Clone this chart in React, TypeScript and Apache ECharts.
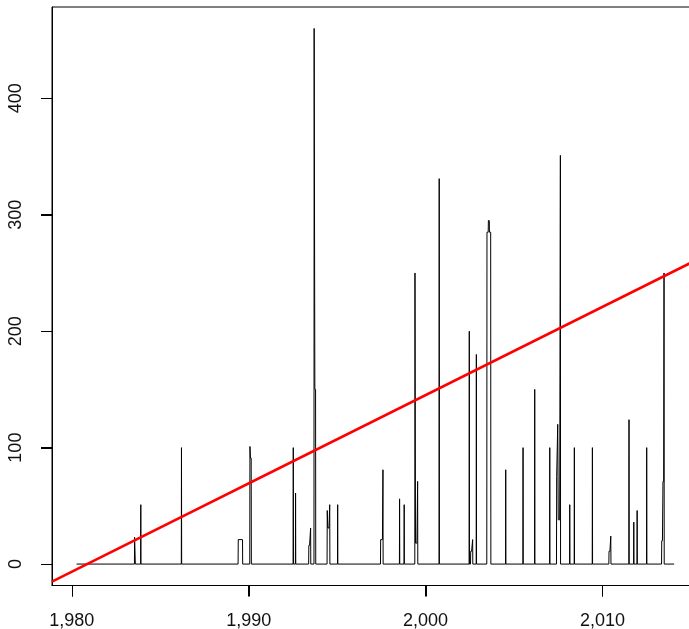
import React, { useEffect, useRef } from "react";
import * as echarts from "echarts";

// Time range of the black series (baseline at 0)
const seriesStart = 1980.27;
const seriesEnd = 2014.05;

// Runs of consecutive non-zero observations: years and values
const runYears: number[][] = [
  [1983.55, 1983.58],
  [1983.9],
  [1986.2],
  [1989.41, 1989.65],
  [1990.07, 1990.1, 1990.14],
  [1992.52],
  [1992.65],
  [1993.4, 1993.44, 1993.5],
  [1993.7, 1993.74, 1993.78],
  [1994.44, 1994.47, 1994.54, 1994.58],
  [1995.03],
  [1997.46, 1997.56, 1997.59],
  [1998.53],
  [1998.79],
  [1999.4, 1999.43, 1999.51, 1999.55],
  [2000.77],
  [2002.47],
  [2002.55, 2002.6, 2002.66],
  [2002.87],
  [2003.47, 2003.54, 2003.55, 2003.6, 2003.61, 2003.68],
  [2004.53],
  [2005.51],
  [2006.17],
  [2007.02],
  [2007.41, 2007.47, 2007.5, 2007.58, 2007.62],
  [2008.15],
  [2008.41],
  [2009.43],
  [2010.37, 2010.42, 2010.47],
  [2011.5],
  [2011.77],
  [2011.96],
  [2012.5],
  [2013.35, 2013.39, 2013.42, 2013.46, 2013.48],
];

const runValues: number[][] = [
  [23, 23],
  [51],
  [100],
  [21, 21],
  [101, 91, 91],
  [100],
  [61],
  [16, 16, 31],
  [460, 150, 150],
  [46, 31, 31, 51],
  [51],
  [21, 21, 81],
  [56],
  [51],
  [250, 18, 18, 71],
  [331],
  [200],
  [11, 11, 21],
  [180],
  [285, 285, 295, 295, 285, 285],
  [81],
  [100],
  [150],
  [100],
  [75, 120, 38, 38, 351],
  [51],
  [100],
  [100],
  [11, 11, 24],
  [124],
  [36],
  [46],
  [100],
  [20, 20, 71, 71, 250],
];

// Axis ranges
const xMin = 1978.88;
const xMax = 2015.4;
const yMin = -18.4;
const yMax = 478.4;

// Red trend line: values at the left and right edges of the plot
const trendYears = [xMin, xMax];
const trendValues = [-15.0, 261.8];

// Tick labels
const xTicks = [1980, 1990, 2000, 2010];
const yTicks = [0, 100, 200, 300, 400];

function buildSeries(): number[][] {
  const eps = 0.01;
  const pts: number[][] = [[seriesStart, 0]];
  runYears.forEach((ys, i) => {
    const vs = runValues[i];
    pts.push([ys[0] - eps, 0]);
    ys.forEach((y, j) => pts.push([y, vs[j]]));
    pts.push([ys[ys.length - 1] + eps, 0]);
  });
  pts.push([seriesEnd, 0]);
  return pts;
}

const TICK_LEN = 11;

export default function App() {
  const ref = useRef<HTMLDivElement>(null);
  useEffect(() => {
    if (!ref.current) return;
    const chart = echarts.init(ref.current, null, { renderer: "svg" });
    chart.setOption({
      animation: false,
      grid: {
        left: 52,
        top: 7,
        right: 0,
        bottom: 43.5,
        show: true,
        borderColor: "#000",
        borderWidth: 1,
      },
      xAxis: {
        type: "value",
        min: xMin,
        max: xMax,
        axisLine: { show: true, onZero: false, lineStyle: { color: "#000", width: 1 } },
        splitLine: { show: false },
        axisTick: {
          show: true,
          length: TICK_LEN,
          customValues: xTicks,
          lineStyle: { color: "#000", width: 1 },
        },
        axisLabel: {
          customValues: xTicks,
          margin: 25,
          fontSize: 18,
          fontFamily: "Liberation Sans",
          color: "#111",
        },
      },
      yAxis: {
        type: "value",
        min: yMin,
        max: yMax,
        axisLine: { show: true, onZero: false, lineStyle: { color: "#000", width: 1 } },
        splitLine: { show: false },
        axisTick: {
          show: true,
          length: TICK_LEN,
          customValues: yTicks,
          lineStyle: { color: "#000", width: 1 },
        },
        axisLabel: {
          customValues: yTicks,
          rotate: 90,
          margin: 28,
          fontSize: 18,
          fontFamily: "Liberation Sans",
          color: "#111",
        },
      },
      series: [
        {
          // x-axis tick marks (filled rects)
          type: "custom",
          clip: false,
          data: xTicks.map((v) => [v, yMin]),
          renderItem: (_p: any, api: any) => {
            const pt = api.coord([api.value(0), api.value(1)]);
            return {
              type: "rect",
              shape: { x: Math.round(pt[0]), y: pt[1], width: 1, height: TICK_LEN },
              style: { fill: "#000" },
            };
          },
        },
        {
          // y-axis tick marks (filled rects)
          type: "custom",
          clip: false,
          data: yTicks.map((v) => [xMin, v]),
          renderItem: (_p: any, api: any) => {
            const pt = api.coord([api.value(0), api.value(1)]);
            return {
              type: "rect",
              shape: { x: pt[0] - TICK_LEN, y: Math.round(pt[1]), width: TICK_LEN, height: 1 },
              style: { fill: "#000" },
            };
          },
        },
        {
          type: "line",
          data: buildSeries(),
          showSymbol: false,
          symbol: "none",
          clip: false,
          lineStyle: { color: "#000", width: 1 },
        },
        {
          type: "line",
          data: trendYears.map((y, i) => [y, trendValues[i]]),
          showSymbol: false,
          symbol: "none",
          clip: false,
          lineStyle: { color: "#ff0000", width: 2.6 },
        },
      ],
    });
    return () => chart.dispose();
  }, []);
  return (
    <div
      ref={ref}
      style={{ position: "fixed", left: 0, top: 0, width: 698, height: 629 }}
    />
  );
}
